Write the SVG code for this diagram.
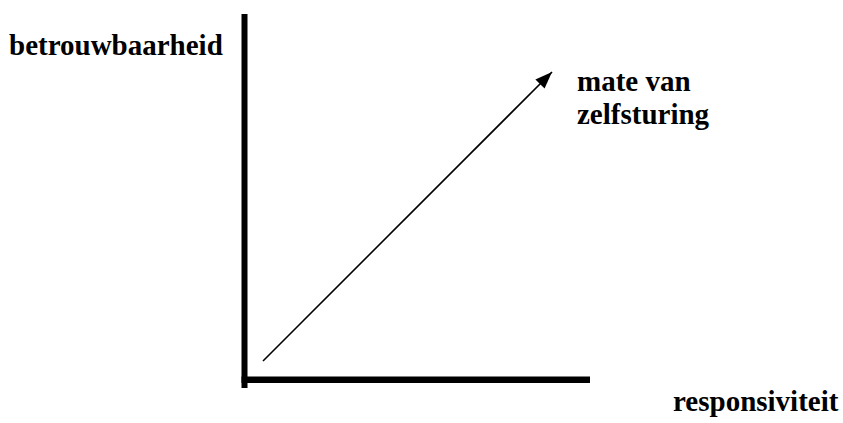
<svg xmlns="http://www.w3.org/2000/svg" width="843" height="423" viewBox="0 0 843 423">
<style>
text{font-family:'Liberation Serif','Times New Roman',serif;font-weight:bold;font-size:29px;fill:#000}
.axis{fill:#000}
.arr{stroke:#000;stroke-width:1.6;fill:none}
</style>
<defs>
<marker id="ah" viewBox="0 0 10 10" refX="10" refY="5" markerWidth="17" markerHeight="13" markerUnits="userSpaceOnUse" orient="auto" preserveAspectRatio="none">
<path d="M0,0 L10,5 L0,10 z" fill="#000"/>
</marker>
</defs>
<rect width="843" height="423" fill="#fff"/>
<g id="y-axis"><rect class="axis" x="241.5" y="14" width="6" height="374"/><text x="9" y="55">betrouwbaarheid</text></g>
<g id="x-axis"><rect class="axis" x="241.5" y="376.5" width="348.5" height="6.5"/><text x="673" y="411">responsiviteit</text></g>
<g id="zelfsturing"><text x="577" y="91">mate van</text><text x="577" y="124">zelfsturing</text></g>
<g id="connectors"><line class="arr" x1="263" y1="361" x2="552" y2="72" marker-end="url(#ah)"/></g>
</svg>
